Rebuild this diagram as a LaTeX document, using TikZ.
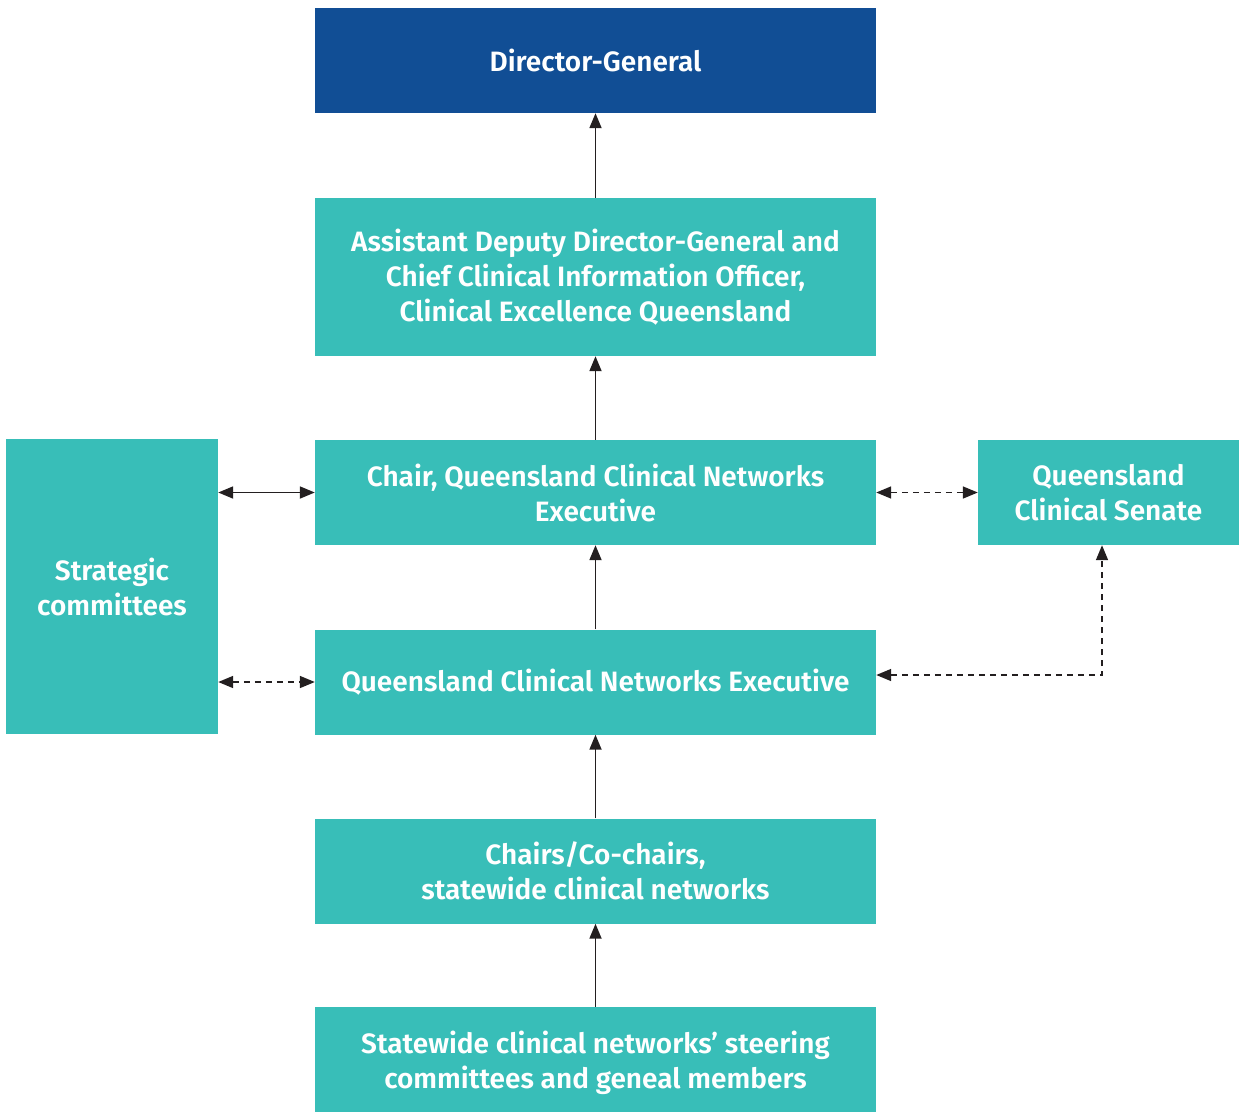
\documentclass[tikz,border=0pt]{standalone}
\usepackage{fontspec}
\setmainfont{Fira Sans}[BoldFont={Fira Sans SemiBold}]
\usetikzlibrary{arrows.meta}
\definecolor{dgblue}{HTML}{114E95}
\definecolor{qteal}{HTML}{38BEB8}
\definecolor{arrgray}{HTML}{231F20}
\begin{document}
\begin{tikzpicture}[x=1pt,y=-1pt,
  box/.style={fill=qteal,draw=none,text=white,font=\fontsize{28}{35}\selectfont\bfseries,align=center,inner sep=0pt},
  conn/.style={draw=arrgray,line width=1.8pt,-{Triangle[length=15pt,width=12pt]}},
  dconn/.style={draw=arrgray,line width=1.6pt,dash pattern=on 6pt off 5pt,-{Triangle[length=15pt,width=12pt]}},
  both/.style={{Triangle[length=15pt,width=12pt]}-{Triangle[length=15pt,width=12pt]}}]
\useasboundingbox (0,0) rectangle (1239,1111);
\node[box,fill=dgblue,minimum width=561pt,minimum height=105pt] (dg) at (595.5,60.5) {Director-General};
\node[box,minimum width=561pt,minimum height=158pt] (addg) at (595.5,277) {Assistant Deputy Director-General and\\Chief Clinical Information Officer,\\Clinical Excellence Queensland};
\node[box,minimum width=561pt,minimum height=105pt] (chair) at (595.5,492.5) {Chair, Queensland Clinical Networks\\Executive};
\node[box,minimum width=561pt,minimum height=105pt] (qcne) at (595.5,682) {Queensland Clinical Networks Executive};
\node[box,minimum width=561pt,minimum height=105pt] (chairs) at (595.5,871) {Chairs/Co-chairs,\\statewide clinical networks};
\node[box,minimum width=561pt,minimum height=112pt] (sw) at (595.5,1063) {Statewide clinical networks’ steering\\committees and geneal members};
\node[box,minimum width=212pt,minimum height=295pt] (sc) at (112,586.5) {Strategic\\committees};
\node[box,minimum width=261pt,minimum height=105pt] (sen) at (1108.5,492.5) {Queensland\\Clinical Senate};
\coordinate (corner) at (1102,675);
\draw[conn] (sw.north) -- (chairs.south);
\draw[conn] (chairs.north) -- (qcne.south);
\draw[conn] (qcne.north) -- (chair.south);
\draw[conn] (chair.north) -- (addg.south);
\draw[conn] (addg.north) -- (dg.south);
\draw[conn,both] (sc.east |- chair.west) -- (chair.west);
\draw[dconn,both] (sc.east |- qcne.west) -- (qcne.west);
\draw[dconn,both] (chair.east) -- (sen.west);
\draw[dconn,both] (qcne.east |- corner) -- (corner) -- (corner |- sen.south);
\end{tikzpicture}
\end{document}
